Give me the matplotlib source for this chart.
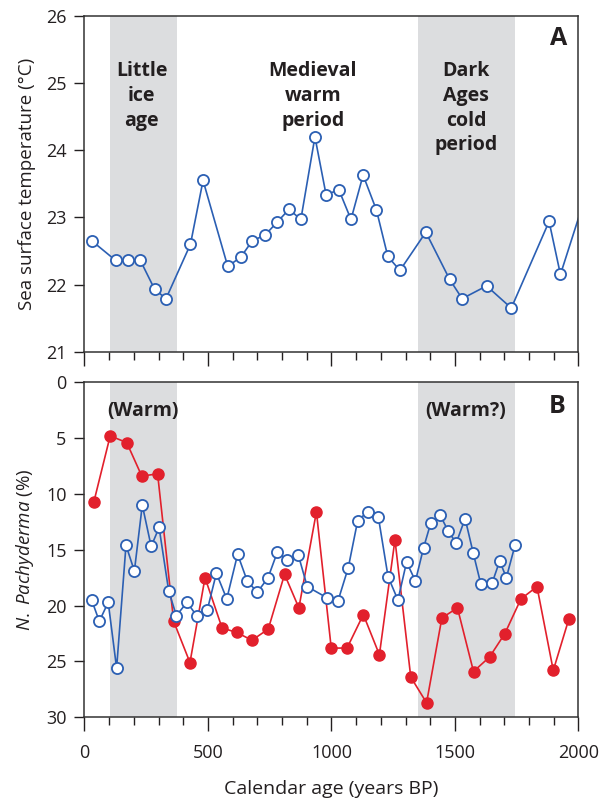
import matplotlib.pyplot as plt
from matplotlib.ticker import MultipleLocator

# top panel: sea surface temperature
sst_age = [30, 126, 178, 226, 284, 330, 429, 480, 580, 633, 679, 732, 780, 828, 876,
           933, 978, 1030, 1079, 1128, 1182, 1228, 1277, 1382, 1478, 1529, 1628, 1728,
           1881, 1927, 2040]
sst = [22.65, 22.36, 22.36, 22.36, 21.93, 21.79, 22.60, 23.55, 22.27, 22.41, 22.65,
       22.74, 22.93, 23.12, 22.97, 24.20, 23.34, 23.41, 22.97, 23.63, 23.11, 22.42,
       22.21, 22.78, 22.08, 21.79, 21.98, 21.65, 22.94, 22.15, 23.45]

# bottom panel: N. pachyderma, blue (open) record
blue_age = [29, 60, 96, 130, 168, 202, 234, 270, 302, 341, 372, 415, 454, 497, 534,
            576, 620, 659, 700, 743, 781, 821, 866, 902, 982, 1026, 1068, 1106, 1146,
            1190, 1229, 1269, 1304, 1340, 1373, 1402, 1440, 1472, 1505, 1541, 1574,
            1605, 1650, 1681, 1708, 1743]
blue_pct = [19.5, 21.4, 19.7, 25.6, 14.6, 16.9, 11.0, 14.7, 13.0, 18.7, 20.9, 19.7,
            20.9, 20.4, 17.1, 19.4, 15.4, 17.8, 18.8, 17.5, 15.2, 15.9, 15.5, 18.3,
            19.3, 19.6, 16.6, 12.4, 11.6, 12.1, 17.4, 19.5, 16.1, 17.8, 14.8, 12.6,
            11.9, 13.3, 14.4, 12.2, 15.3, 18.1, 18.0, 16.0, 17.5, 14.6]

# bottom panel: red (filled) record
red_age = [38, 104, 171, 232, 296, 361, 427, 488, 557, 616, 678, 744, 810, 868, 939,
           999, 1063, 1129, 1194, 1257, 1321, 1385, 1447, 1510, 1575, 1640, 1702, 1767,
           1832, 1898, 1961]
red_pct = [10.7, 4.8, 5.4, 8.4, 8.2, 21.4, 25.1, 17.5, 22.0, 22.4, 23.1, 22.1, 17.2,
           20.2, 11.6, 23.8, 23.8, 20.8, 24.4, 14.1, 26.4, 28.7, 21.1, 20.2, 25.9,
           24.6, 22.5, 19.4, 18.3, 25.8, 21.2]

little_ice_age = (105, 375)
dark_ages = (1352, 1742)

blue = '#2b5fb3'
red = '#e2202c'
shade = '#dcdddf'
txt = '#231f20'

plt.rcParams['font.family'] = ['Open Sans', 'DejaVu Sans']
plt.rcParams['mathtext.fontset'] = 'custom'
plt.rcParams['mathtext.it'] = 'Open Sans:italic'
plt.rcParams['mathtext.rm'] = 'Open Sans'

fig = plt.figure(figsize=(6.07, 7.99), dpi=100)
ax1 = fig.add_axes([0.1392, 0.5598, 0.8138, 0.4202])
ax2 = fig.add_axes([0.1392, 0.10225, 0.8138, 0.4193])

for ax in (ax1, ax2):
    ax.axvspan(*little_ice_age, color=shade, lw=0, zorder=0)
    ax.axvspan(*dark_ages, color=shade, lw=0, zorder=0)
    ax.set_xlim(0, 2000)
    ax.xaxis.set_major_locator(MultipleLocator(500))
    ax.xaxis.set_minor_locator(MultipleLocator(100))
    ax.tick_params(axis='both', which='both', direction='out', labelsize=13,
                   colors=txt, width=1)
    ax.tick_params(axis='x', which='major', length=10, pad=9)
    ax.tick_params(axis='x', which='minor', length=5.5)
    ax.tick_params(axis='y', length=7, pad=6)
    for s in ax.spines.values():
        s.set_linewidth(1.1)
        s.set_color('#333333')

ax1.plot(sst_age, sst, '-o', color=blue, lw=1.2, ms=8, mfc='white', mec=blue,
         mew=1.3)
ax1.set_ylim(21, 26)
ax1.set_yticks([21, 22, 23, 24, 25, 26])
ax1.tick_params(axis='x', labelbottom=False)
ax1.set_ylabel('Sea surface temperature (°C)', fontsize=13.5, color=txt, labelpad=7)

ax1.text(231, 25.33, 'Little\nice\nage', ha='center', va='top', fontsize=14,
         fontweight='bold', color=txt, linespacing=1.32)
ax1.text(924, 25.33, 'Medieval\nwarm\nperiod', ha='center', va='top', fontsize=14,
         fontweight='bold', color=txt, linespacing=1.32)
ax1.text(1546, 25.33, 'Dark\nAges\ncold\nperiod', ha='center', va='top', fontsize=14,
         fontweight='bold', color=txt, linespacing=1.32)
ax1.text(0.978, 0.9136, 'A', transform=ax1.transAxes, ha='right', va='baseline',
         fontsize=18, fontweight='bold', color=txt)

ax2.plot(red_age, red_pct, '-o', color=red, lw=1.2, ms=8, mfc=red, mec=red,
         mew=1.0, zorder=3)
ax2.plot(blue_age, blue_pct, '-o', color=blue, lw=1.2, ms=8, mfc='white', mec=blue,
         mew=1.3, zorder=4)
ax2.set_ylim(30, 0)
ax2.set_yticks([0, 5, 10, 15, 20, 25, 30])
ax2.set_ylabel('$\\it{N.}$ $\\it{Pachyderma}$ (%)', fontsize=13.5, color=txt, labelpad=7)
ax2.set_xlabel('Calendar age (years BP)', fontsize=14, color=txt, labelpad=13)

ax2.text(236, 2.56, '(Warm)', ha='center', va='center', fontsize=14,
         fontweight='bold', color=txt)
ax2.text(1542, 2.56, '(Warm?)', ha='center', va='center', fontsize=14,
         fontweight='bold', color=txt)
ax2.text(0.974, 0.909, 'B', transform=ax2.transAxes, ha='right', va='baseline',
         fontsize=18, fontweight='bold', color=txt)

fig.savefig('out.png', dpi=100)
